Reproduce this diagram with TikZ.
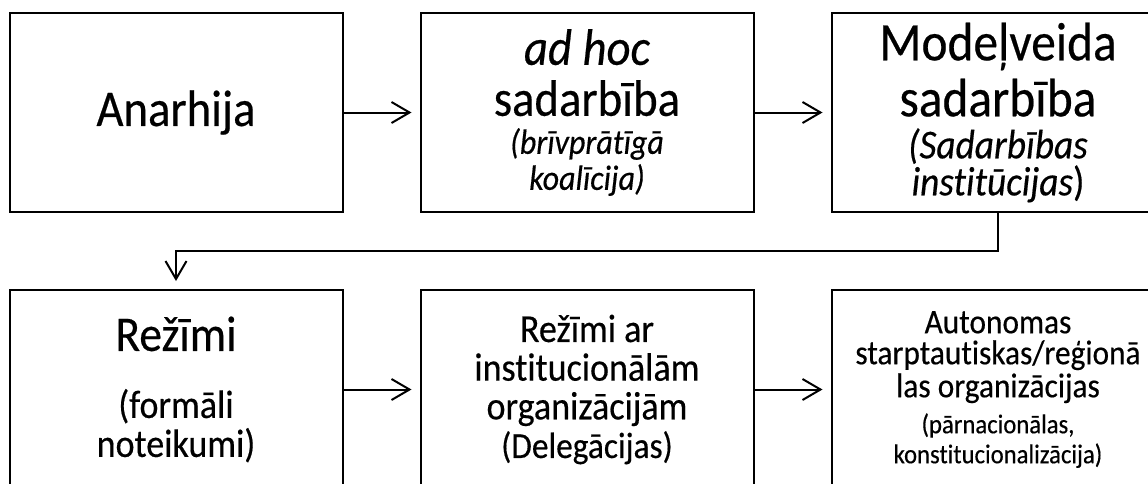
\documentclass[tikz,border=0pt]{standalone}
\usepackage{fontspec}
\setmainfont{Carlito}[FakeStretch=0.91,FakeBold=0.4,Ligatures={NoCommon}]
\usetikzlibrary{positioning,arrows.meta,calc}
\newcommand{\fsz}[1]{\fontsize{#1}{#1}\selectfont}

\begin{document}
\begin{tikzpicture}[line width=1.5pt]
\tikzstyle{every node}+=[inner sep=0pt]
\tikzstyle{stage}=[draw=black,rectangle,minimum width=249.75pt,minimum height=149.25pt,align=center]
\tikzstyle{flow}=[black,-{Straight Barb[length=13.5pt,width=15.75pt]},shorten >=6pt]
\useasboundingbox (0,0) rectangle (861pt,-362.25pt);
\node [stage,font=\fsz{38.5}] (anarhija) at (132pt,-84.375pt) {Anarhija};
\node [stage,font={\fsz{27}\lineskiplimit=-100pt}] (adhoc) [right=57pt of anarhija]
  {{\fsz{38.5}\itshape ad hoc}\\[11.25pt]{\fsz{38.5}sadarbība}\\[1.5pt]{\fsz{26.4}\itshape (brīvprātīgā}\\{\fsz{26.4}\itshape koalīcija)}};
\node [stage,font={\fsz{27.75}\lineskiplimit=-100pt}] (modelveida) [right=57pt of adhoc]
  {{\fsz{40.7}Modeļveida}\\[14.25pt]{\fsz{40.7}sadarbība}\\[3.75pt]{\fsz{30.8}\itshape (Sadarbības}\\{\fsz{30.8}\textit{institūcijas})}};
\node [stage,font={\fsz{29.25}\lineskiplimit=-100pt}] (rezimi) [below=57pt of anarhija]
  {{\fsz{37.4}Režīmi}\\[21pt]{\fsz{29.7}(formāli}\\{\fsz{29.7}noteikumi)}};
\node [stage,font={\fsz{29}\lineskiplimit=-100pt}] (delegacijas) [right=57pt of rezimi]
  {{\fsz{29.7}Režīmi ar}\\{\fsz{29.7}institucionālām}\\{\fsz{29.7}organizācijām}\\{\fsz{27.5}(Delegācijas)}};
\node [stage,font={\fsz{22.5}\lineskiplimit=-100pt}] (autonomas) [right=57pt of delegacijas]
  {{\fsz{25.85}Autonomas}\\[0.75pt]{\fsz{25.85}starptautiskas/reģionā}\\[2.25pt]{\fsz{25.85}las organizācijas}\\[4.5pt]{\fsz{20.35}(pārnacionālas,}\\{\fsz{20.35}konstitucionalizācija)}};
\draw [flow] (anarhija) -- (adhoc);
\draw [flow] (adhoc) -- (modelveida);
\draw [flow] (modelveida.south) -- ($(modelveida.south)!.5!(autonomas.north)$) -| (rezimi.north);
\draw [flow] (rezimi) -- (delegacijas);
\draw [flow] (delegacijas) -- (autonomas);
\end{tikzpicture}
\end{document}
